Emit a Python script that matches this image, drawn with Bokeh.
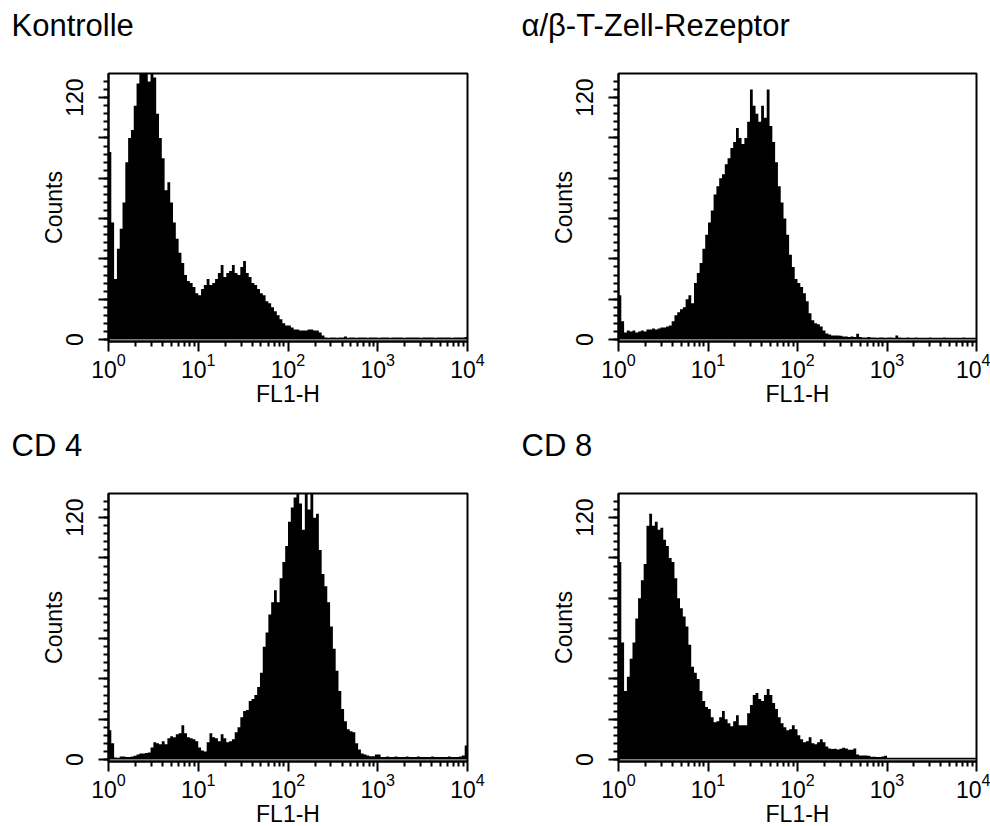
import numpy as np
from bokeh.plotting import figure
from bokeh.layouts import column, row
from bokeh.models import FixedTicker, Label
from bokeh.embed import file_html
from bokeh.resources import INLINE

# ---------------- data ----------------
titles = ["Kontrolle", "α/β-T-Zell-Rezeptor", "CD 4", "CD 8"]

kontrolle = [
    93, 58, 30, 45, 55, 68, 88, 100, 104, 116,
    127, 140, 145, 150, 128, 145, 130, 112, 100, 90,
    74, 78, 68, 58, 50, 43, 38, 32, 29, 28,
    26, 23, 22, 25, 27, 30, 27, 28, 30, 33,
    37, 31, 33, 34, 37, 33, 32, 36, 39, 33,
    31, 28, 27, 25, 23, 22, 19, 18, 16, 14,
    12, 10, 8, 7, 7, 6, 5, 5, 4.5, 4.5,
    4.5, 5, 5, 4.5, 4.5, 3.5, 2, 1, 0.8, 1,
    1, 0.8, 1, 1, 1.5, 0.8, 1, 1, 0.8, 1,
    1, 1, 0.8, 1, 1, 1, 0.8, 1, 1, 1,
    0.8, 1, 1, 1, 1, 0.8, 1, 1, 1, 1,
    1, 0.8, 1, 1, 1, 1, 0.8, 1, 1, 1,
    1, 1, 0.8, 1, 1, 1, 1, 1.2,
]

ab_tcr = [
    22, 9, 3.5, 4.5, 4, 4.5, 3.5, 4, 4.5, 4,
    5, 5, 5.5, 5, 5.5, 6, 6, 6.5, 7, 9,
    12, 13.5, 15, 16, 20, 22, 18, 28, 33, 38,
    45, 52, 58, 64, 72, 76, 80, 82, 87, 90,
    95, 98, 105, 100, 97, 100, 108, 124, 116, 112,
    108, 116, 110, 124, 106, 98, 88, 76, 68, 60,
    52, 42, 36, 30, 28, 26, 23, 19, 13, 9.5,
    8, 7.5, 6.5, 4.5, 3, 2.5, 2, 2, 2, 1.8,
    1.5, 1.5, 1.2, 1.5, 1.2, 2.8, 1.2, 1, 1, 1.2,
    1, 1, 0.8, 1, 1, 0.8, 1, 1, 0.8, 2,
    1, 0.8, 0.8, 1, 0.8, 0.8, 1, 0.8, 0.8, 0.8,
    0.8, 1, 0.8, 0.8, 0.8, 0.8, 1, 0.8, 0.8, 0.8,
    0.8, 0.8, 0.8, 1, 0.8, 0.8, 0.8, 0.8,
]

cd4 = [
    14.5, 8, 1, 0.8, 1.5, 1.5, 1.2, 1.2, 1.5, 1.8,
    2.5, 3, 3, 3.2, 3.5, 6, 8.5, 8, 7.5, 9,
    7.5, 10.5, 11.5, 11, 12.5, 13, 17, 13, 11, 10.5,
    10, 9, 6, 4.5, 4, 8.5, 13, 11, 10.5, 9,
    12.5, 10.5, 8.5, 9, 10, 13.5, 16, 21, 24, 24.5,
    29, 30, 32, 36, 43, 56, 63, 72, 78, 84,
    78, 90, 98, 106, 118, 125, 130, 140, 127, 114,
    140, 124, 140, 120, 122, 104, 92, 86, 78, 66,
    55, 44, 34, 25, 19, 15, 14, 13.5, 8, 5,
    3, 2.5, 2, 1.6, 1.6, 2.5, 2.5, 1.2, 1.2, 1.5,
    1.2, 1.2, 1.5, 1.2, 1.2, 1.2, 1.5, 1.2, 1.2, 1.2,
    1.5, 1.2, 1.2, 1.2, 1.2, 1.5, 1.2, 1.2, 1.2, 1.2,
    1.2, 1.5, 1.2, 1.2, 1.2, 1.5, 2, 7,
]

cd8 = [
    98, 58, 34, 41, 50, 58, 70, 80, 89, 97,
    116, 122, 116, 118, 114, 115, 109, 106, 100, 98,
    90, 80, 75, 71, 66, 57, 46, 43, 40, 34,
    29, 26, 25, 21, 18.5, 19, 21, 24, 20, 18,
    16.5, 19, 22, 17, 17, 17, 23, 27, 32, 33,
    30, 29, 32, 35, 32, 28, 25, 21, 18, 16,
    14.5, 15, 17, 15, 12, 10, 8.5, 9, 11, 8,
    7.5, 8.5, 10, 8.5, 6.5, 5.5, 5.2, 5.3, 5, 5.3,
    5.8, 5.5, 4.8, 4.8, 5.5, 2.5, 2, 2, 2, 1.8,
    1.3, 1.3, 1.2, 1.2, 1.5, 1.8, 0.8, 0.8, 0.8, 0.8,
    0.8, 0.8, 0.8, 0.8, 0.8, 0.8, 0.8, 0.8, 0.8, 0.8,
    0.8, 0.8, 0.8, 0.8, 0.8, 0.8, 0.8, 0.8, 0.8, 0.8,
    0.8, 0.8, 0.8, 0.8, 0.8, 0.8, 0.8, 0.8,
]

x_major_ticks = [1, 10, 100, 1000, 10000]
x_minor_ticks = [m * 10 ** k for k in range(4) for m in range(2, 10)]
y_major_ticks = [0, 20, 40, 60, 80, 100, 120]
y_minor_ticks = list(range(0, 130, 4))
y_tick_labels = {0: "0", 120: "120"}
x_label = "FL1-H"
y_label = "Counts"

FONT = "Liberation Sans"


def make_panel(title, counts, left_border, right_border, top_border,
               bottom_border, frame_width):
    n = len(counts)
    edges = 10 ** (np.arange(n + 1) * 4.0 / n)
    tops = np.append(np.asarray(counts, dtype=float), counts[-1])
    p = figure(
        x_axis_type="log", x_range=(1, 10000), y_range=(-1, 132),
        frame_width=frame_width, frame_height=268,
        min_border_left=left_border, min_border_right=right_border,
        min_border_top=top_border, min_border_bottom=bottom_border,
        output_backend="svg", toolbar_location=None,
    )
    p.varea_step(x=edges, y1=np.zeros(n + 1), y2=tops, step_mode="after",
                 fill_color="black")

    # panel heading, placed in the top border (left of and above the frame)
    p.add_layout(Label(
        x=-97, y=48, x_units="screen", y_units="screen", text=title,
        text_font=FONT, text_font_size="31px", text_color="black",
        text_baseline="alphabetic", text_align="left"), "above")

    p.grid.visible = False
    p.outline_line_color = "black"
    p.outline_line_width = 2
    p.background_fill_color = "white"
    p.border_fill_color = "white"

    xa = p.xaxis[0]
    xa.ticker = FixedTicker(ticks=x_major_ticks, minor_ticks=x_minor_ticks)
    xa.axis_label = x_label
    ya = p.yaxis[0]
    ya.ticker = FixedTicker(ticks=y_major_ticks, minor_ticks=y_minor_ticks)
    ya.major_label_overrides = {v: y_tick_labels.get(v, "") for v in y_major_ticks}
    ya.major_label_orientation = "vertical"
    ya.axis_label = y_label

    for ax in (xa, ya):
        ax.axis_line_color = "black"
        ax.axis_line_width = 2
        ax.major_tick_line_color = "black"
        ax.minor_tick_line_color = "black"
        ax.major_tick_line_width = 2
        ax.minor_tick_line_width = 2
        ax.major_tick_in = 0
        ax.minor_tick_in = 0
        ax.major_tick_out = 10
        ax.minor_tick_out = 5
        ax.major_label_text_font = FONT
        ax.major_label_text_font_size = "23px"
        ax.major_label_text_color = "black"
        ax.axis_label_text_font = FONT
        ax.axis_label_text_font_size = "23px"
        ax.axis_label_text_font_style = "normal"
        ax.axis_label_text_color = "black"
    xa.major_label_standoff = 1
    xa.axis_label_standoff = 0
    ya.major_label_standoff = 15
    ya.axis_label_standoff = -3
    return p


p1 = make_panel(titles[0], kontrolle, 108, 51, 73, 87, 359)
p2 = make_panel(titles[1], ab_tcr, 100, 14, 73, 87, 358)
p3 = make_panel(titles[2], cd4, 108, 51, 65, 63, 359)
p4 = make_panel(titles[3], cd8, 100, 14, 65, 63, 358)

layout = column(row(p1, p2), row(p3, p4))
open("out.html", "w").write(file_html(layout, INLINE))
